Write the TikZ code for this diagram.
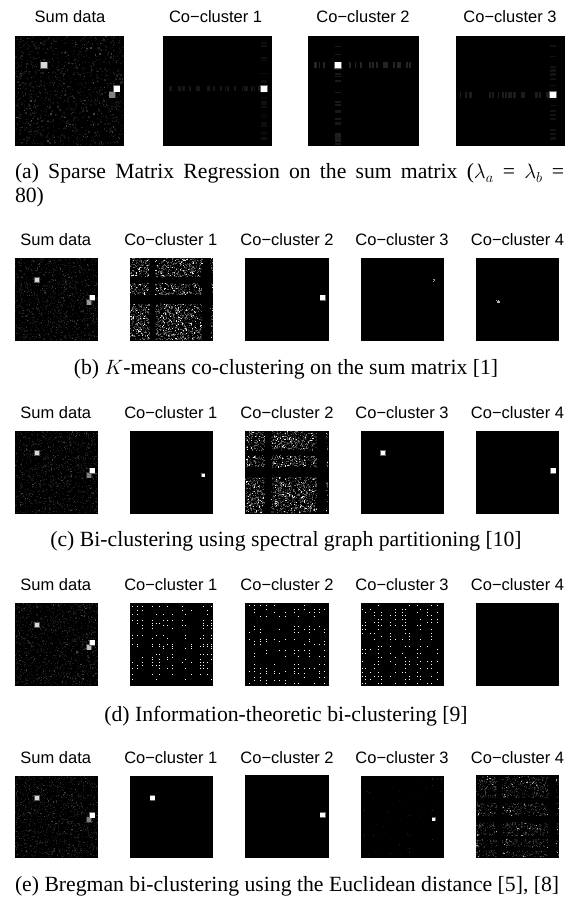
\documentclass[tikz,border=0pt]{standalone}
\usepackage{fontspec}
\setmainfont{Liberation Serif}
\newfontfamily\labfont{Liberation Sans}
\tikzset{
  panelbg/.style={fill=black,draw=none},
  lab/.style={font=\labfont\fontsize{16.5}{20}\selectfont,anchor=base,inner sep=0pt},
  capt/.style={font=\fontsize{21.7}{26}\selectfont,anchor=base,inner sep=0pt},
  captl/.style={capt,anchor=base west}
}
\newcommand\setpanel[4]{\def\px{#1}\def\py{#2}\def\pw{#3}\def\ph{#4}\fill[panelbg] (#1,#2) rectangle ++(#3,#4);}
% fx1 fy1 fx2 fy2 count gray dw dh
\newcommand\scat[8]{\foreach \ii in {1,...,#5}{%
  \pgfmathsetmacro\ax{\px+\pw*(#1+rnd*(#3-(#1)))}%
  \pgfmathsetmacro\ay{\py+\ph*(#2+rnd*(#4-(#2)))}%
  \fill[white!#6!black] (\ax,\ay) rectangle ++(#7,#8);}}
% fx fy gray fraction-size
\newcommand\blob[4]{%
  \pgfmathsetmacro\bs{#4*\pw}%
  \pgfmathsetmacro\bh{#4*\pw+1.2}%
  \pgfmathsetmacro\gh{#3*0.4}%
  \pgfmathsetmacro\ax{\px+\pw*#1-\bs/2}%
  \pgfmathsetmacro\ay{\py+\ph*#2-\bs/2}%
  \fill[white!\gh!black] (\ax-0.6,\ay-0.6) rectangle ++(\bh,\bh);
  \fill[white!#3!black] (\ax,\ay) rectangle ++(\bs,\bs);}
% cols rows density gray dot
\newcommand\gridn[5]{\foreach \ca/\cb in {#1}{\foreach \ra/\rb in {#2}{%
  \pgfmathtruncatemacro\nn{max(1,#3*(\cb-\ca)*(\rb-\ra))}%
  \scat{\ca}{\ra}{\cb}{\rb}{\nn}{#4}{#5}{#5}}}}
% cols rows prob gray dot
\newcommand\lat[5]{\foreach \cc in {#1}{\foreach \rr in {#2}{%
  \pgfmathsetmacro\pp{rnd}%
  \ifdim\pp pt<#3pt
    \pgfmathsetmacro\ax{\px+\pw*\cc}\pgfmathsetmacro\ay{\py+\ph*\rr}%
    \fill[white!#4!black] (\ax,\ay) rectangle ++(#5,#5);
  \fi}}}
% x y w h dotsize secondblobgray
\newcommand\sumdata[6]{\setpanel{#1}{#2}{#3}{#4}%
  \scat{0}{0}{.985}{.985}{800}{8}{#5}{#5}%
  \scat{0}{0}{.985}{.985}{320}{15}{#5}{#5}%
  \scat{0}{0}{.985}{.985}{60}{27}{#5}{#5}%
  \blob{.265}{.268}{85}{.055}%
  \blob{.89}{.535}{#6}{.055}%
  \blob{.93}{.48}{100}{.055}}
\newcommand\kmn[3]{%
  \gridn{#1}{#2}{1700}{18}{1.1}%
  \gridn{#1}{#2}{1000}{42}{1.1}%
  \gridn{#1}{#2}{#3}{90}{1.1}}
\begin{document}
\begin{tikzpicture}[x=1pt,y=-1pt]
\useasboundingbox (0,0) rectangle (574,901);
\fill[white] (0,0) rectangle (574,901);
\pgfmathsetseed{4242}
% ---------- row a
\node[lab] (la0) at (70,22.7) {Sum data};
\node[lab] (la1) at (215.6,22.7) {Co−cluster 1};
\node[lab] (la2) at (363,22.7) {Co−cluster 2};
\node[lab] (la3) at (510,22.7) {Co−cluster 3};
\sumdata{15}{36}{109.2}{109.7}{1.3}{50}
\setpanel{162.5}{36}{109.2}{109.7}
\scat{.03}{.453}{.88}{.453}{26}{9}{1.6}{5.8}
\scat{.905}{.02}{.905}{.98}{24}{6}{6}{1.5}
\blob{.93}{.48}{100}{.055}
\setpanel{308.3}{36}{110.3}{109.7}
\scat{0}{.24}{.92}{.24}{26}{14}{1.7}{6}
\scat{.245}{.02}{.245}{.98}{20}{10}{6}{1.5}
\scat{.245}{.85}{.245}{.97}{6}{12}{6}{2}
\blob{.27}{.268}{100}{.055}
\setpanel{455.7}{36}{109.2}{109.7}
\scat{.02}{.508}{.85}{.508}{24}{11}{1.6}{6}
\scat{.865}{.02}{.865}{.98}{24}{7}{6}{1.5}
\blob{.89}{.535}{100}{.055}
\node[captl] (ca1) at (14.8,179) {\makebox[549pt][s]{(a) Sparse Matrix Regression on the sum matrix ($\lambda_a$ = $\lambda_b$ =}};
\node[captl] (ca2) at (14.8,203) {80)};
% ---------- row b
\node[lab] (lb0) at (55.8,245) {Sum data};
\node[lab] (lb1) at (170.8,245) {Co−cluster 1};
\node[lab] (lb2) at (287,245) {Co−cluster 2};
\node[lab] (lb3) at (402,245) {Co−cluster 3};
\node[lab] (lb4) at (517.5,245) {Co−cluster 4};
\sumdata{15}{258}{83.2}{82.7}{1.1}{60}
\setpanel{130}{258}{83.2}{82.7}
\kmn{0/.225,.30/.86,.965/.985}{0/.225,.30/.44,.55/.985}{280}
\setpanel{245.3}{258}{83.2}{82.7}
\blob{.93}{.48}{100}{.055}
\setpanel{360.5}{258}{83.2}{82.7}
\scat{.86}{.25}{.885}{.28}{4}{60}{1.1}{1.1}
\setpanel{476}{258}{83.2}{82.7}
\scat{.235}{.50}{.28}{.535}{4}{70}{1.1}{1.1}
\node[capt] (cb) at (286,374) {(b) $K$-means co-clustering on the sum matrix [1]};
% ---------- row c
\node[lab] (lc0) at (55.8,418) {Sum data};
\node[lab] (lc1) at (170.8,418) {Co−cluster 1};
\node[lab] (lc2) at (287,418) {Co−cluster 2};
\node[lab] (lc3) at (402,418) {Co−cluster 3};
\node[lab] (lc4) at (517.5,418) {Co−cluster 4};
\sumdata{15}{431}{83.2}{82.7}{1.1}{50}
\setpanel{130}{431}{83.2}{82.7}
\blob{.88}{.535}{100}{.035}
\setpanel{245.3}{431}{83.2}{82.7}
\kmn{0/.225,.31/.85,.97/.985}{0/.225,.29/.43,.55/.985}{240}
\setpanel{360.5}{431}{83.2}{82.7}
\blob{.27}{.268}{100}{.055}
\setpanel{476}{431}{83.2}{82.7}
\blob{.93}{.48}{100}{.055}
\node[capt] (cc) at (286,546.7) {(c) Bi-clustering using spectral graph partitioning [10]};
% ---------- row d
\node[lab] (ld0) at (55.8,590) {Sum data};
\node[lab] (ld1) at (170.8,590) {Co−cluster 1};
\node[lab] (ld2) at (287,590) {Co−cluster 2};
\node[lab] (ld3) at (402,590) {Co−cluster 3};
\node[lab] (ld4) at (517.5,590) {Co−cluster 4};
\sumdata{15}{603}{83.2}{82.7}{1.1}{75}
\setpanel{130}{603}{83.2}{82.7}
\lat{.03,.08,.15,.27,.31,.35,.40,.44,.51,.62,.66,.73,.84,.88,.93,.97}{.04,.09,.13,.21,.24,.27,.30,.39,.42,.49,.52,.55,.62,.65,.68,.71,.75,.78,.86,.92}{.45}{100}{1}
\setpanel{245.3}{603}{83.2}{82.7}
\lat{.04,.10,.18,.25,.35,.41,.48,.58,.63,.70,.77,.82,.88,.94}{.02,.07,.11,.16,.28,.31,.35,.43,.46,.49,.57,.60,.64,.74,.78,.82,.85,.89,.93,.97}{.4}{100}{1}
\setpanel{360.5}{603}{83.2}{82.7}
\lat{.02,.06,.12,.16,.21,.25,.36,.41,.50,.54,.58,.68,.72,.80,.85,.92}{.03,.07,.11,.15,.19,.23,.27,.31,.36,.40,.44,.52,.56,.60,.65,.70,.74,.78,.84,.88,.92,.97}{.45}{100}{1}
\setpanel{476}{603}{83.2}{82.7}
\node[capt] (cd) at (286,721.3) {(d) Information-theoretic bi-clustering [9]};
% ---------- row e
\node[lab] (le0) at (55.8,763) {Sum data};
\node[lab] (le1) at (170.8,763) {Co−cluster 1};
\node[lab] (le2) at (287,763) {Co−cluster 2};
\node[lab] (le3) at (402,763) {Co−cluster 3};
\node[lab] (le4) at (517.5,763) {Co−cluster 4};
\sumdata{15}{776}{83.2}{81.7}{1.1}{50}
\setpanel{130}{776}{83.2}{81.7}
\blob{.27}{.268}{100}{.055}
\setpanel{245.3}{775}{83.2}{82.7}
\blob{.93}{.484}{100}{.055}
\setpanel{360.5}{776}{83.2}{81.7}
\lat{.04,.15,.58,.86,.97}{.03,.11,.42,.48,.72,.73,.77,.88,.93,.97}{.3}{16}{1.1}
\scat{.02}{.02}{.98}{.98}{40}{7}{1.1}{1.1}
\blob{.88}{.53}{100}{.035}
\setpanel{476}{775}{83.2}{82.7}
\gridn{0/.245,.31/.86,.96/.985}{.01/.27,.33/.49,.565/.73,.77/.87,.91/.985}{1300}{12}{1.1}
\gridn{0/.245,.31/.86,.96/.985}{.01/.27,.33/.49,.565/.73,.77/.87,.91/.985}{600}{26}{1.1}
\gridn{0/.245,.31/.86,.96/.985}{.01/.27,.33/.49,.565/.73,.77/.87,.91/.985}{70}{70}{1.1}
\node[captl] (ce) at (14.8,891.5) {(e) Bregman bi-clustering using the Euclidean distance [5], [8]};
\end{tikzpicture}
\end{document}
